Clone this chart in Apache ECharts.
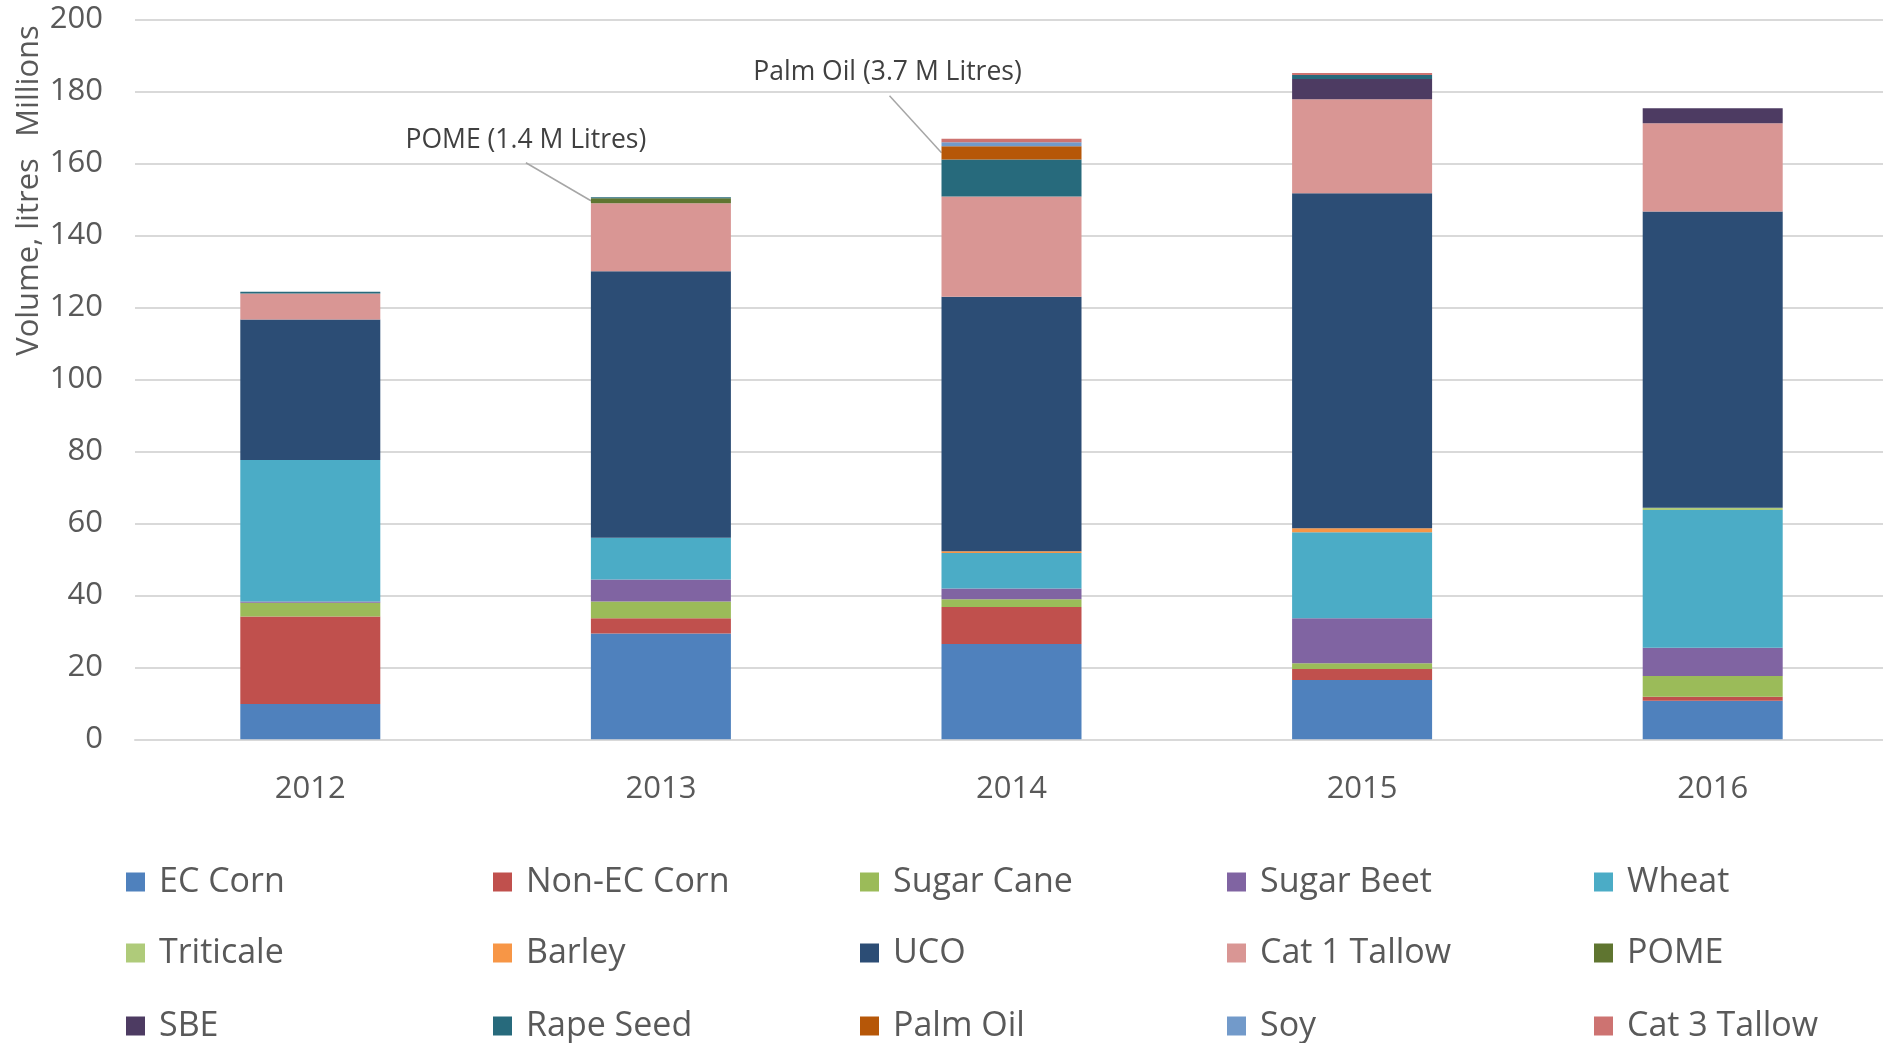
<!DOCTYPE html>
<html>
<head>
<meta charset="utf-8">
<script src="https://cdn.jsdelivr.net/npm/echarts@6/dist/echarts.min.js"></script>
<style>
html,body{margin:0;padding:0;background:#fff;overflow:hidden;}
#c{width:1890px;height:1043px;}
</style>
</head>
<body>
<div id="c"></div>
<script>
const years = ['2012', '2013', '2014', '2015', '2016'];
const yTicks = [0, 20, 40, 60, 80, 100, 120, 140, 160, 180, 200];

const ecCorn      = [9.8, 29.4, 26.5, 16.5, 10.7];
const nonEcCorn   = [24.3, 4.2, 10.25, 3.0, 1.1];
const sugarCane   = [3.8, 4.7, 2.15, 1.6, 5.8];
const sugarBeet   = [0.4, 6.1, 3.0, 12.5, 7.8];
const wheat       = [39.3, 11.6, 9.85, 23.9, 38.3];
const triticale   = [0, 0, 0, 0, 0.6];
const barley      = [0, 0, 0.5, 1.1, 0];
const uco         = [39.0, 74.0, 70.7, 93.1, 82.3];
const cat1Tallow  = [7.2, 18.9, 27.8, 26.1, 24.5];
const pome        = [0, 1.4, 0, 0, 0];
const sbe         = [0, 0, 0, 5.6, 4.2];
const rapeSeed    = [0.5, 0.3, 10.3, 1.1, 0];
const palmOil     = [0, 0, 3.7, 0, 0];
const soy         = [0, 0, 1.1, 0, 0];
const cat3Tallow  = [0, 0, 1.0, 0.6, 0];

const seriesNames = ['EC Corn', 'Non-EC Corn', 'Sugar Cane', 'Sugar Beet', 'Wheat',
  'Triticale', 'Barley', 'UCO', 'Cat 1 Tallow', 'POME',
  'SBE', 'Rape Seed', 'Palm Oil', 'Soy', 'Cat 3 Tallow'];
const seriesValues = [ecCorn, nonEcCorn, sugarCane, sugarBeet, wheat,
  triticale, barley, uco, cat1Tallow, pome,
  sbe, rapeSeed, palmOil, soy, cat3Tallow];
const seriesColors = ['#4F81BD', '#C0504D', '#9BBB59', '#8064A2', '#4BACC6',
  '#AFCB7A', '#F79646', '#2C4D75', '#D99694', '#5F7530',
  '#4D3B62', '#276A7C', '#B65708', '#729ACA', '#CD7371'];

// callouts: which series / category they point at, and where the text sits relative to the pointed segment
const callouts = [
  { series: 'POME', index: 1, text: 'POME (1.4 M Litres)', lineDx: -65, lineDy: -38, textDx: -65, textDy: -60 },
  { series: 'Palm Oil', index: 2, text: 'Palm Oil (3.7 M Litres)', lineDx: -52, lineDy: -57, textDx: -54, textDy: -80 }
];

const FONT = '"Open Sans", "Liberation Sans", sans-serif';
const GREY = '#595959';
const BAR_WIDTH = 140;

const series = seriesNames.map(function (name, i) {
  return {
    name: name, type: 'bar', stack: 'total', barWidth: BAR_WIDTH,
    itemStyle: { color: seriesColors[i] },
    data: seriesValues[i]
  };
});

function legendRow(names, top) {
  return {
    data: names, left: 121, top: top, orient: 'horizontal',
    itemWidth: 19, itemHeight: 19, itemGap: 94, icon: 'rect',
    textStyle: { fontFamily: FONT, fontSize: 34, color: GREY, width: 240, lineHeight: 38, padding: [0, 0, 0, 9] },
    selectedMode: false
  };
}

const chart = echarts.init(document.getElementById('c'));
chart.setOption({
  animation: false,
  backgroundColor: '#fff',
  grid: { left: 135, width: 1753, top: 19.3, height: 720 },
  legend: [
    legendRow(seriesNames.slice(0, 5), 858),
    legendRow(seriesNames.slice(5, 10), 929),
    legendRow(seriesNames.slice(10, 15), 1002)
  ],
  xAxis: {
    type: 'category', data: years,
    axisLine: { lineStyle: { color: '#d9d9d9', width: 2 } },
    axisTick: { show: false },
    axisLabel: { fontFamily: FONT, fontSize: 31, color: GREY, margin: 34 }
  },
  yAxis: {
    type: 'value', min: yTicks[0], max: yTicks[yTicks.length - 1], interval: 20,
    axisLine: { show: false }, axisTick: { show: false },
    splitLine: { lineStyle: { color: '#d9d9d9', width: 2 } },
    axisLabel: { fontFamily: FONT, fontSize: 31, color: GREY, margin: 32 }
  },
  series: series
});

// build callouts from the library's own coordinate conversion
const graphics = [
  { type: 'text', x: 29, y: 257, rotation: Math.PI / 2,
    style: { text: 'Volume, litres', font: '31px ' + FONT, fill: GREY, align: 'center', verticalAlign: 'middle' } },
  { type: 'text', x: 29, y: 81, rotation: Math.PI / 2,
    style: { text: 'Millions', font: '31px ' + FONT, fill: GREY, align: 'center', verticalAlign: 'middle' } }
];
callouts.forEach(function (c) {
  const si = seriesNames.indexOf(c.series);
  let below = 0;
  for (let k = 0; k < si; k++) below += seriesValues[k][c.index];
  const mid = below + seriesValues[si][c.index] / 2;
  const p = chart.convertToPixel({ xAxisIndex: 0, yAxisIndex: 0 }, [c.index, mid]);
  const ax = p[0] - BAR_WIDTH / 2, ay = p[1];
  graphics.push({ type: 'line', shape: { x1: ax + c.lineDx, y1: ay + c.lineDy, x2: ax, y2: ay },
    style: { stroke: '#a6a6a6', lineWidth: 1.5 } });
  graphics.push({ type: 'text', x: ax + c.textDx, y: ay + c.textDy,
    style: { text: c.text, font: '26.5px ' + FONT, fill: '#404040', align: 'center', verticalAlign: 'middle' } });
});
chart.setOption({ graphic: graphics });
</script>
</body>
</html>
